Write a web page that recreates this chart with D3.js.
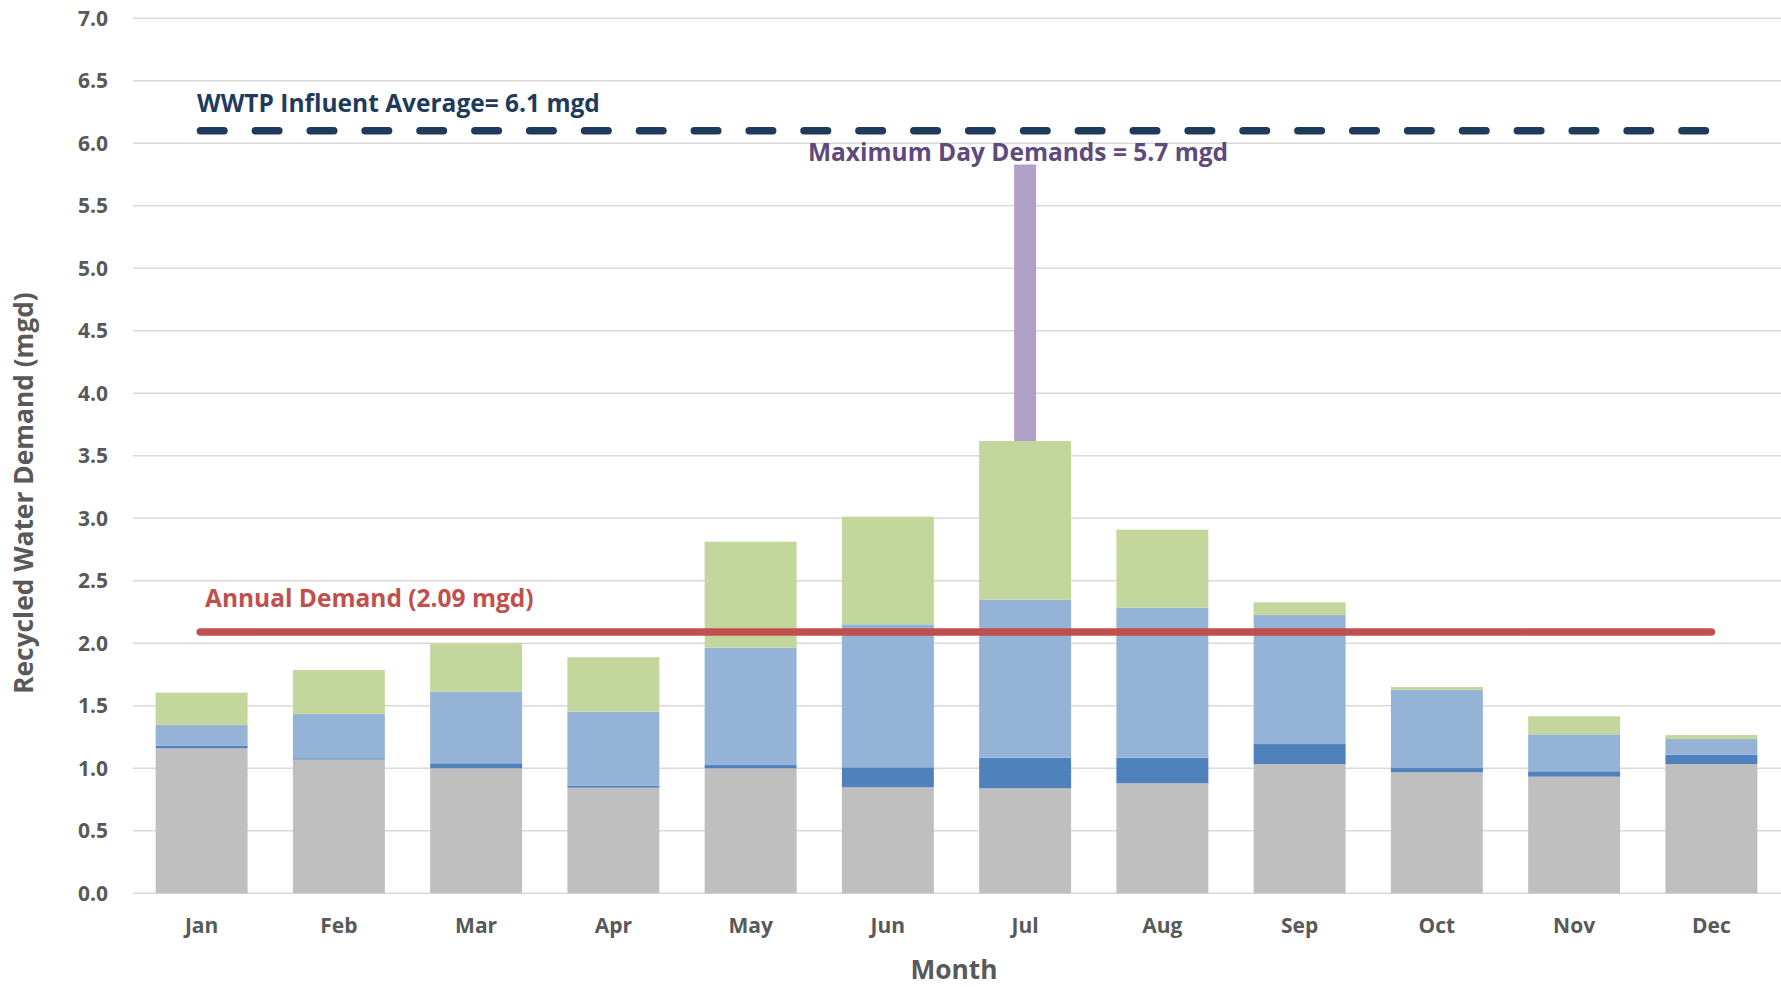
<!DOCTYPE html>
<html><head><meta charset="utf-8">
<script src="https://cdn.jsdelivr.net/npm/d3@7"></script>
<style>
html,body{margin:0;padding:0;background:#fff;}
svg text{font-family:"Open Sans",sans-serif;font-weight:bold;}
</style></head>
<body>
<svg id="chart" width="1781" height="987"></svg>
<script>
const months = ["Jan","Feb","Mar","Apr","May","Jun","Jul","Aug","Sep","Oct","Nov","Dec"];
// stacked layers (mgd), bottom to top
const grayBase   = [1.16,1.07,1.00,0.845,1.00,0.848,0.84,0.88,1.034,0.968,0.933,1.034];
const darkBlue   = [0.02,0.01,0.04,0.016,0.026,0.16,0.245,0.205,0.16,0.034,0.043,0.075];
const lightBlue  = [0.166,0.354,0.573,0.592,0.939,1.144,1.264,1.20,1.032,0.624,0.296,0.125];
const green      = [0.259,0.352,0.387,0.435,0.848,0.861,1.269,0.624,0.102,0.024,0.144,0.032];
const maxDayMonth = "Jul";
const maxDayTop = 5.83;
const influentAvg = 6.1;
const annualDemand = 2.09;
const yTicks = [0,0.5,1,1.5,2,2.5,3,3.5,4,4.5,5,5.5,6,6.5,7];
const layerNames = ["gray","darkBlue","lightBlue","green"];
const layerColors = ["#bfbfbf","#4f81bd","#95b3d7","#c3d69b"];

const FONT = "'Open Sans',sans-serif";
const svg = d3.select("#chart");
const x = d3.scaleBand().domain(months).range([133,1780]).paddingInner(0.33).paddingOuter(0.165);
const y = d3.scaleLinear().domain([0,7]).range([893.3,18.3]);

// gridlines
svg.append("g").selectAll("line").data(yTicks).join("line")
  .attr("x1",133).attr("x2",1781)
  .attr("y1",d=>y(d)).attr("y2",d=>y(d))
  .attr("stroke","#d9d9d9").attr("stroke-width",1.5);

// y tick labels
const yAxis = d3.axisLeft(y).tickValues(yTicks).tickFormat(d3.format(".1f")).tickSize(0).tickPadding(0);
const ya = svg.append("g").attr("transform","translate(108,0)").call(yAxis);
ya.select(".domain").remove();
ya.selectAll("text").attr("font-size",21).attr("fill","#595959").style("font-family",FONT).style("font-weight","bold");

// x tick labels
const xAxis = d3.axisBottom(x).tickSize(0).tickPadding(0);
const xa = svg.append("g").attr("transform","translate(0,918)").call(xAxis);
xa.select(".domain").remove();
xa.selectAll("text").attr("font-size",21).attr("fill","#595959").style("font-family",FONT).style("font-weight","bold");

// stacked bars
const rows = months.map((m,i)=>({month:m,gray:grayBase[i],darkBlue:darkBlue[i],lightBlue:lightBlue[i],green:green[i]}));
const stack = d3.stack().keys(layerNames)(rows);
svg.append("g").selectAll("g").data(stack).join("g")
  .attr("fill",(d,i)=>layerColors[i])
  .selectAll("rect").data(d=>d).join("rect")
  .attr("x",d=>x(d.data.month))
  .attr("width",x.bandwidth())
  .attr("y",d=>y(d[1]))
  .attr("height",d=>y(d[0])-y(d[1]));

// max day bar
const jIdx = months.indexOf(maxDayMonth);
const jTop = stack[3][jIdx][1];
const pw = 22;
svg.append("rect")
  .attr("x",x(maxDayMonth)+x.bandwidth()/2-pw/2).attr("width",pw)
  .attr("y",y(maxDayTop)).attr("height",y(jTop)-y(maxDayTop))
  .attr("fill","#b2a1c7");

// lines
const xs = x("Jan")+x.bandwidth()/2, xe = x("Dec")+x.bandwidth()/2;
svg.append("line").attr("x1",xs-1.4).attr("x2",xe).attr("y1",y(annualDemand)).attr("y2",y(annualDemand))
  .attr("stroke","#c0504d").attr("stroke-width",7.5).attr("stroke-linecap","round");
const dashOn = 23.5, period = 54.87;
const dx1 = xs-1.15;
svg.append("line").attr("x1",dx1).attr("x2",dx1+27*period+dashOn).attr("y1",y(influentAvg)).attr("y2",y(influentAvg))
  .attr("stroke","#1f3b5c").attr("stroke-width",7.5).attr("stroke-linecap","round")
  .attr("stroke-dasharray",dashOn+" "+(period-dashOn));

// labels
svg.append("text").attr("x",197).attr("y",112).attr("font-size",24.5).attr("fill","#1f3b5c")
  .text("WWTP Influent Average= "+influentAvg.toFixed(1)+" mgd");
svg.append("text").attr("x",205).attr("y",607).attr("font-size",24.5).attr("fill","#c0504d")
  .text("Annual Demand ("+annualDemand.toFixed(2)+" mgd)");
svg.append("text").attr("x",1018).attr("y",161).attr("text-anchor","middle").attr("font-size",24.5).attr("fill","#604a7b")
  .text("Maximum Day Demands = 5.7 mgd");

// axis titles
svg.append("text").attr("transform","translate(33,493) rotate(-90)").attr("text-anchor","middle")
  .attr("font-size",26.3).attr("fill","#595959").text("Recycled Water Demand (mgd)");
svg.append("text").attr("x",954).attr("y",979).attr("text-anchor","middle")
  .attr("font-size",26.3).attr("fill","#595959").text("Month");
</script>
</body></html>
